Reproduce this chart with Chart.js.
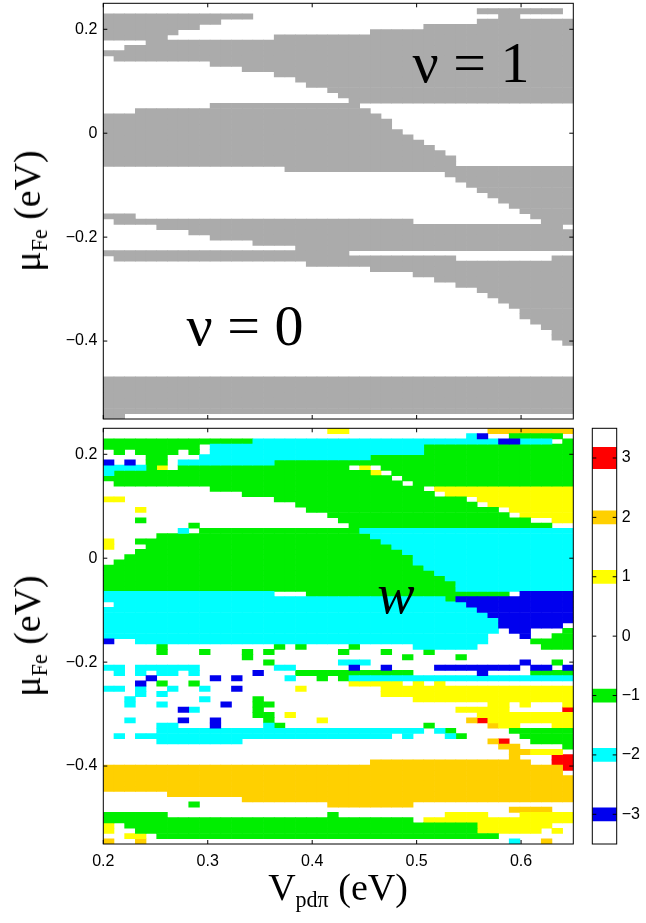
<!DOCTYPE html>
<html>
<head>
<meta charset="utf-8">
<script src="https://cdn.jsdelivr.net/npm/chart.js@4.4.1/dist/chart.umd.min.js"></script>
<style>
  body { margin: 0; background: #fff; }
  #wrap { position: relative; width: 646px; height: 923px; overflow: hidden; font-family: "Liberation Serif", "Times New Roman", serif; color: #000; }
  .box { position: absolute; }
  .lbl { position: absolute; white-space: nowrap; line-height: 1; }
  .lbl sub { font-size: 0.58em; vertical-align: -0.3em; line-height: 0; }
</style>
</head>
<body>
<div id="wrap">
  <div class="box" style="left:0;top:0;width:646px;height:423px"><canvas id="nuChart"></canvas></div>
  <div class="box" style="left:0;top:423px;width:646px;height:500px"><canvas id="wChart"></canvas></div>
  <div class="box" style="left:580px;top:423px;width:66px;height:500px"><canvas id="cbChart"></canvas></div>

  <div class="lbl" style="left:471px;top:34px;font-size:58px;transform:translateX(-50%)">ν = 1</div>
  <div class="lbl" style="left:245px;top:297px;font-size:58px;transform:translateX(-50%)">ν = 0</div>
  <div class="lbl" style="left:396px;top:566px;font-size:56px;font-style:italic;transform:translateX(-50%)">w</div>

  <div class="lbl" style="left:27px;top:211px;font-size:38px;transform:translate(-50%,-50%) rotate(-90deg)">μ<sub>Fe</sub> (eV)</div>
  <div class="lbl" style="left:27px;top:636px;font-size:38px;transform:translate(-50%,-50%) rotate(-90deg)">μ<sub>Fe</sub> (eV)</div>
  <div class="lbl" style="left:338px;top:868px;font-size:38px;transform:translateX(-50%)">V<sub>pdπ</sub> (eV)</div>
</div>

<script>
// axis ranges and grid size (44 x 79 cells)
const xMin = 0.2, xMax = 0.65;
const yMin = -0.55, yMax = 0.25;
const nCols = 44, nRows = 79;

const xTicks = [0.2, 0.3, 0.4, 0.5, 0.6];
const xTickLabels = ['0.2', '0.3', '0.4', '0.5', '0.6'];
const yTicks = [0.2, 0, -0.2, -0.4];
const yTickLabels = ['0.2', '0', '\u22120.2', '\u22120.4'];

// colorbar
const cbTicks = [3, 2, 1, 0, -1, -2, -3];
const cbTickLabels = ['3', '2', '1', '0', '\u22121', '\u22122', '\u22123'];
const cbLevels = [-3, -2, -1, 1, 2, 3];
const cbHalf = [0.11, 0.11, 0.11, 0.11, 0.11, 0.18];

const greyColor = '#ababab';
const levelColors = { '-3': '#0000ee', '-2': '#00ffff', '-1': '#00ee00', '1': '#ffff00', '2': '#ffd000', '3': '#ff0000' };

// top panel (nu = 1 cells), per row from the top: [firstCol, lastCol]
const nuRows = [
  [],                         // 0
  [[35,42]],
  [[0,13],[37,38]],
  [[0,10],[35,43]],
  [[0,8],[30,43]],
  [[0,6],[25,43]],            // 5
  [[0,5],[16,43]],
  [[4,43]],
  [[2,43]],
  [[0,43]],
  [[1,43]],                   // 10
  [[10,43]],
  [[13,43]],
  [[16,43]],
  [[18,43]],
  [[19,43]],                  // 15
  [[21,43]],
  [[22,43]],
  [[23,43]],
  [[10,23]],
  [[3,24]],                   // 20
  [[0,25]],
  [[0,26]],
  [[0,26]],
  [[0,27]],
  [[0,28]],                   // 25
  [[0,29]],
  [[0,30]],
  [[0,31]],
  [[0,32]],
  [[0,32]],                   // 30
  [[17,43]],
  [[32,43]],
  [[33,43]],
  [[34,43]],
  [[35,43]],                  // 35
  [[36,43]],
  [[37,43]],
  [[38,43]],
  [[39,43]],
  [[0,2],[40,43]],            // 40
  [[1,28],[41,43]],
  [[5,42]],
  [[8,43]],
  [[10,43]],
  [[14,43]],                  // 45
  [[18,43]],
  [[0,22]],
  [[1,32],[42,43]],
  [[19,43]],
  [[25,43]],                  // 50
  [[29,43]],
  [[31,43]],
  [[33,43]],
  [[35,43]],
  [[36,43]],                  // 55
  [[37,43]],
  [[38,43]],
  [[39,43]],
  [[39,43]],
  [[40,43]],                  // 60
  [[41,43]],
  [[42,43]],
  [[42,43]],
  [[43,43]],
  [],                         // 65
  [],
  [],
  [],
  [],
  [],                         // 70
  [[0,43]],
  [[0,43]],
  [[0,43]],
  [[0,43]],
  [[0,43]],                   // 75
  [[0,43]],
  [[0,43]],
  [[0,1]]                     // 78
];

// bottom panel (winding number w), per row from the top: [firstCol, lastCol, w]
const windRows = [
  [[21,22,1],[36,43,2]],                                              // 0
  [[34,34,-2],[35,35,-3],[38,42,-1]],
  [[0,13,-1],[14,36,-2],[37,38,-3],[39,41,-2],[43,43,-1]],
  [[0,8,-1],[10,29,-2],[30,43,-1]],
  [[1,1,-1],[3,6,-1],[8,8,-1],[10,29,-2],[30,43,-1]],
  [[4,5,-1],[9,24,-2],[25,43,-1]],                                    // 5
  [[0,0,-3],[2,2,-3],[4,5,-1],[7,15,-2],[16,43,-1]],
  [[0,3,-2],[4,4,-1],[5,5,1],[7,22,-1],[24,24,1],[26,43,-1]],
  [[0,0,-2],[1,24,-1],[25,25,1],[27,43,-1]],
  [[0,26,-1],[28,43,-1]],
  [[1,27,-1],[29,43,-1]],                                             // 10
  [[10,29,-1],[31,43,1]],
  [[13,30,-1],[32,43,1]],
  [[0,1,1],[16,33,-1],[35,43,1]],
  [[18,34,-1],[36,43,1]],
  [[3,3,1],[19,36,-1],[38,43,1]],                                     // 15
  [[21,37,-1],[39,43,1]],
  [[3,3,-1],[22,39,-1],[42,43,1]],
  [[8,8,-1],[23,41,-1]],
  [[7,7,-2],[9,23,-1],[24,43,-2]],
  [[5,24,-1],[25,43,-2]],                                             // 20
  [[0,0,1],[3,25,-1],[26,43,-2]],
  [[0,0,1],[4,26,-1],[27,43,-2]],
  [[3,27,-1],[28,43,-2]],
  [[2,28,-1],[29,43,-2]],
  [[1,28,-1],[29,43,-2]],                                             // 25
  [[0,29,-1],[30,43,-2]],
  [[0,30,-1],[31,43,-2]],
  [[0,31,-1],[32,43,-2]],
  [[0,32,-1],[33,43,-2]],
  [[0,32,-1],[33,43,-2]],                                             // 30
  [[0,15,-2],[19,37,-1],[39,43,-3]],
  [[0,31,-2],[32,32,-1],[33,43,-3]],
  [[1,33,-2],[34,43,-3]],
  [[0,34,-2],[35,43,-3]],
  [[0,35,-2],[36,43,-3]],                                             // 35
  [[0,36,-2],[37,43,-3]],
  [[0,36,-2],[37,42,-3]],
  [[0,36,-2],[38,39,-3],[43,43,-1]],
  [[0,35,-2],[39,39,-3],[42,43,-1]],
  [[0,0,-3],[3,35,-2],[40,43,-1]],                                    // 40
  [[5,5,-1],[16,16,-1],[18,18,-1],[23,23,-1],[29,34,-2],[41,43,-1]],
  [[5,5,-1],[9,9,-1],[13,13,-1],[15,15,-1],[22,22,-1],[26,26,-1],[30,30,-1]],
  [[13,13,-1],[28,28,-1],[33,33,-1]],
  [[15,15,-1],[22,24,-2],[39,39,-3],[42,42,-1]],
  [[0,1,-2],[3,8,-2],[16,17,-2],[23,23,-3],[26,26,-3],[31,38,-3],[40,41,-3],[43,43,-3]],   // 45
  [[1,1,-2],[3,3,-2],[5,6,-2],[8,8,-2],[14,14,-3],[18,28,-1],[35,35,-3],[40,43,-1]],
  [[4,4,-3],[10,10,-3],[12,12,-3],[17,17,-2],[20,20,-1],[22,22,-1],[23,43,-2]],
  [[3,3,-3],[5,5,-1],[8,8,-1],[23,27,1],[29,29,1],[31,31,1]],
  [[0,1,-2],[3,3,-2],[6,6,-2],[9,9,-2],[12,12,-3],[18,18,1],[26,43,1]],
  [[3,3,-2],[5,5,-2],[26,43,1]],                                      // 50
  [[2,2,-2],[9,9,-2],[14,14,-1],[29,43,1]],
  [[2,2,-2],[5,5,-2],[11,11,-3],[14,15,-1],[36,37,1],[39,39,1],[43,43,1]],
  [[7,7,-3],[8,8,-2],[14,14,-1],[33,37,1],[43,43,3]],
  [[14,15,-1],[17,17,1],[35,43,1]],
  [[2,2,-2],[7,7,-3],[10,10,-3],[15,15,-1],[20,20,1],[34,34,2],[35,35,3],[36,43,1]],      // 55
  [[5,6,-2],[10,10,-3],[15,15,-2],[16,16,-1],[30,30,-1],[36,36,2],[37,38,1],[42,43,1]],
  [[5,29,-2],[31,31,-2],[32,32,-1],[38,43,-1]],
  [[1,1,-2],[3,26,-2],[28,28,-2],[32,32,-2],[33,33,-1],[39,43,-1]],
  [[5,12,-2],[36,36,2],[37,37,3],[40,43,-1]],
  [[37,38,2],[43,43,-1]],                                             // 60
  [[38,39,2],[40,42,1]],
  [[38,38,2],[42,43,3]],
  [[25,39,2],[42,43,3]],
  [[0,42,2],[43,43,3]],
  [[0,42,2]],                                                         // 65
  [[0,43,2]],
  [[0,43,2]],
  [[0,43,2]],
  [[6,43,2]],
  [[13,43,2]],                                                        // 70
  [[8,8,-1],[21,28,2]],
  [[38,41,2]],
  [[0,5,-1],[21,21,-1],[32,35,1],[39,43,1]],
  [[0,28,-1],[30,43,1]],
  [[0,0,1],[2,34,-1],[35,41,1]],                                      // 75
  [[0,0,1],[3,34,-1],[35,40,1],[42,42,1]],
  [[2,3,1],[5,36,-1]],
  [[0,0,2],[3,3,2],[38,38,-2],[41,41,2]]                              // 78
];

const dx = (xMax - xMin) / nCols;
const dy = (yMax - yMin) / nRows;

function cellX(k) { return Math.round((xMin + (k + 0.5) * dx) * 1e6) / 1e6; }
function cellY(j) { const top = yMax - j * dy; return [top - dy, top]; }

// one floating bar per cell with the given value
function cellsOf(rows, level) {
  const pts = [];
  rows.forEach((runs, j) => {
    runs.forEach(r => {
      const v = r.length > 2 ? r[2] : 1;
      if (v !== level) return;
      for (let k = r[0]; k <= r[1]; k++) pts.push({ x: cellX(k), y: cellY(j) });
    });
  });
  return pts;
}

const barStyle = { barPercentage: 1, categoryPercentage: 1, grouped: false, borderWidth: 0, borderSkipped: false };
const tickFont = { family: 'Liberation Sans', size: 16 };

// axis size is fixed so the plot boxes line up with the figure
function fixSize(prop, val) {
  return s => {
    s[prop] = val;
    s.paddingTop = 0; s.paddingBottom = 0; s.paddingLeft = 0; s.paddingRight = 0;
  };
}

// box around the plot area plus small inward ticks, like the matlab axes
const framePlugin = {
  id: 'frame',
  afterDraw(chart, args, opts) {
    const ctx = chart.ctx, a = chart.chartArea, t = 4;
    ctx.save();
    ctx.strokeStyle = '#000';
    ctx.lineWidth = 1;
    ctx.beginPath();
    (opts.xTicks || []).forEach(v => {
      const px = chart.scales.x.getPixelForValue(v);
      ctx.moveTo(px, a.bottom); ctx.lineTo(px, a.bottom - t);
      ctx.moveTo(px, a.top); ctx.lineTo(px, a.top + t);
    });
    (opts.yTicks || []).forEach(v => {
      const py = chart.scales.y.getPixelForValue(v);
      ctx.moveTo(a.left, py); ctx.lineTo(a.left + t, py);
      ctx.moveTo(a.right, py); ctx.lineTo(a.right - t, py);
    });
    ctx.stroke();
    ctx.strokeRect(a.left, a.top, a.right - a.left, a.bottom - a.top);
    ctx.restore();
  }
};

function panelScales(showX) {
  return {
    x: {
      type: 'linear', min: xMin, max: xMax, offset: false,
      grid: { display: false, drawTicks: false }, border: { display: false },
      afterBuildTicks: s => { s.ticks = xTicks.map(v => ({ value: v })); },
      ticks: { display: showX, callback: (v, i) => xTickLabels[i], padding: 8, color: '#000', font: tickFont, maxRotation: 0 },
      afterFit: fixSize('height', showX ? 40 : 0)
    },
    y: {
      type: 'linear', min: yMin, max: yMax,
      grid: { display: false, drawTicks: false }, border: { display: false },
      afterBuildTicks: s => { s.ticks = yTicks.map(v => ({ value: v })); },
      ticks: { callback: (v, i) => yTickLabels[i], padding: 6, color: '#000', font: tickFont },
      afterFit: fixSize('width', 103.3)
    }
  };
}

const common = {
  responsive: true, maintainAspectRatio: false, animation: false, events: []
};

new Chart(document.getElementById('nuChart'), {
  type: 'bar',
  data: { datasets: [Object.assign({ data: cellsOf(nuRows, 1), backgroundColor: greyColor }, barStyle)] },
  options: Object.assign({}, common, {
    layout: { padding: { left: 0, right: 72.7, top: 3.3, bottom: 4 } },
    plugins: { legend: { display: false }, tooltip: { enabled: false }, frame: { xTicks: xTicks, yTicks: yTicks } },
    scales: panelScales(false)
  }),
  plugins: [framePlugin]
});

new Chart(document.getElementById('wChart'), {
  type: 'bar',
  data: {
    datasets: cbLevels.map(lv => Object.assign({ data: cellsOf(windRows, lv), backgroundColor: levelColors[lv] }, barStyle))
  },
  options: Object.assign({}, common, {
    layout: { padding: { left: 0, right: 72.7, top: 5.3, bottom: 39 } },
    plugins: { legend: { display: false }, tooltip: { enabled: false }, frame: { xTicks: xTicks, yTicks: yTicks } },
    scales: panelScales(true)
  }),
  plugins: [framePlugin]
});

new Chart(document.getElementById('cbChart'), {
  type: 'bar',
  data: {
    labels: ['w'],
    datasets: [{
      data: cbLevels.map((v, i) => ({ x: 'w', y: [v - cbHalf[i], v + cbHalf[i]] })),
      backgroundColor: cbLevels.map(v => levelColors[v]),
      barPercentage: 1, categoryPercentage: 1, borderWidth: 0, borderSkipped: false
    }]
  },
  options: Object.assign({}, common, {
    layout: { padding: { left: 12.3, right: 0, top: 5.3, bottom: 79 } },
    plugins: { legend: { display: false }, tooltip: { enabled: false }, frame: { yTicks: cbTicks } },
    scales: {
      x: { type: 'category', grid: { display: false, drawTicks: false }, border: { display: false }, ticks: { display: false }, afterFit: fixSize('height', 0) },
      y: {
        position: 'right', min: -3.5, max: 3.5,
        grid: { display: false, drawTicks: false }, border: { display: false },
        afterBuildTicks: s => { s.ticks = cbTicks.map(v => ({ value: v })); },
        ticks: { callback: (v, i) => cbTickLabels[i], padding: 5, color: '#000', font: tickFont },
        afterFit: fixSize('width', 29.3)
      }
    }
  }),
  plugins: [framePlugin]
});
</script>
</body>
</html>
